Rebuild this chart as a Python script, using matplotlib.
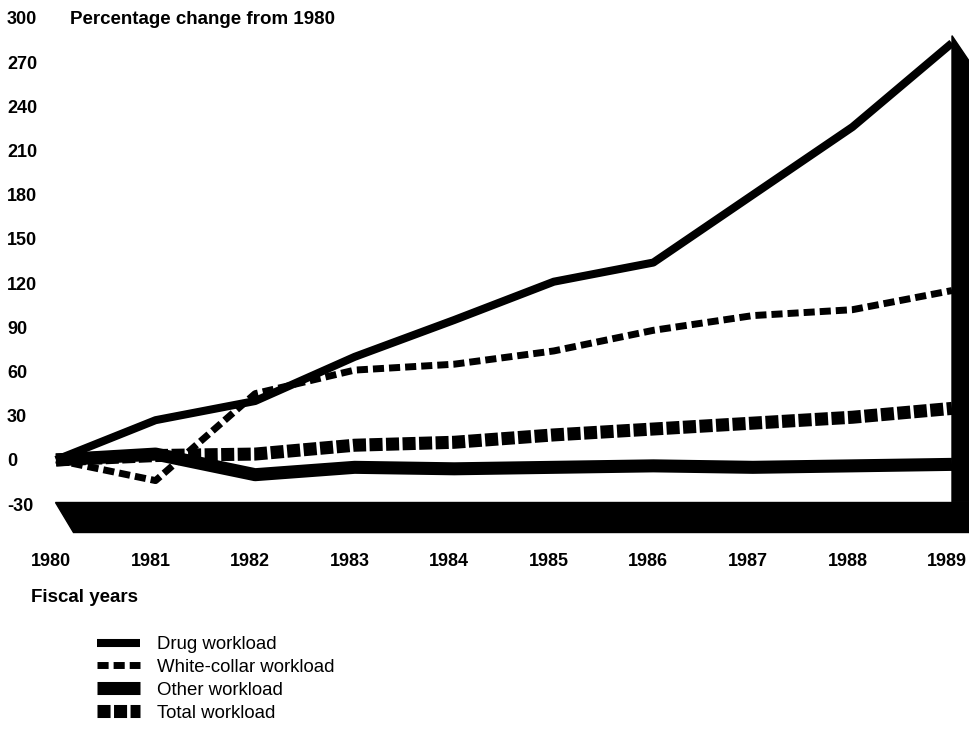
import matplotlib.pyplot as plt
from matplotlib.patches import Polygon
from matplotlib.transforms import ScaledTranslation

plt.rcParams['font.family'] = ['Liberation Sans', 'DejaVu Sans']
plt.rcParams['lines.scale_dashes'] = False

years = [1980, 1981, 1982, 1983, 1984, 1985, 1986, 1987, 1988, 1989]
drug = [0, 27, 40, 70, 95, 121, 134, 180, 226, 283]
white_collar = [0, -14, 45, 61, 65, 74, 88, 98, 102, 115]
other = [0, 4, -10, -5, -6, -5, -4, -5, -4, -3]
total = [0, 3, 4, 10, 12, 17, 21, 25, 29, 35]

yticks = [300, 270, 240, 210, 180, 150, 120, 90, 60, 30, 0, -30]

fig = plt.figure(figsize=(9.7, 7.32), dpi=100)
# axes spans 1980..1989 horizontally, 300 down to the floor bottom
ax = fig.add_axes([56 / 970, 1 - 532 / 732, (952 - 56) / 970, (532 - 18) / 732])
ax.set_xlim(1980, 1989)
ax.set_ylim(-48.9, 300)
for sp in ax.spines.values():
    sp.set_visible(False)

# floor and right wall (fake 3-D)
floor = Polygon([(1979.99, -28.5), (1989.18, -28.5), (1989.18, -48.9), (1980.17, -48.9)],
                closed=True, color='black', clip_on=False, zorder=1)
wall = Polygon([(1989.0, -28.5), (1989.0, 288), (1989.18, 270), (1989.18, -28.5)],
               closed=True, color='black', clip_on=False, zorder=1)
ax.add_patch(floor)
ax.add_patch(wall)

ax.plot(years, drug, color='black', lw=5.8, solid_capstyle='butt', clip_on=False,
        zorder=3, label='Drug workload')
ax.plot(years, white_collar, color='black', lw=5, dashes=(8, 3.6), dash_capstyle='butt',
        clip_on=False, zorder=4, label='White-collar workload')
ax.plot(years, other, color='black', lw=9.4, solid_capstyle='butt', clip_on=False,
        zorder=2, label='Other workload')
ax.plot(years, total, color='black', lw=9.4, dashes=(9.4, 2.5), dash_capstyle='butt',
        clip_on=False, zorder=3, label='Total workload')

ax.set_yticks(yticks)
ax.set_yticklabels([str(v) for v in yticks], fontsize=13, fontweight='bold', ha='left')
ax.tick_params(axis='y', length=0, pad=35.3)
ax.set_xticks(years)
ax.set_xticklabels([str(y) for y in years], fontsize=13, fontweight='bold')
ax.tick_params(axis='x', length=0, pad=15)
shift = ScaledTranslation(-5 / 100, 0, fig.dpi_scale_trans)
for lab in ax.get_xticklabels():
    lab.set_transform(lab.get_transform() + shift)

fig.text(70 / 970, 1 - 20 / 732, 'Percentage change from 1980', fontsize=13.5,
         fontweight='bold', va='center', ha='left')
fig.text(31 / 970, 1 - 597 / 732, 'Fiscal years', fontsize=13.5,
         fontweight='bold', va='center', ha='left')

h, l = ax.get_legend_handles_labels()
fig.legend(h, l, loc='upper left', bbox_to_anchor=(97 / 970, 1 - 636 / 732), frameon=False,
           fontsize=13.4, handlelength=2.3, handletextpad=0.9, labelspacing=0.32,
           borderpad=0, borderaxespad=0)

fig.savefig('out.png', dpi=100)
